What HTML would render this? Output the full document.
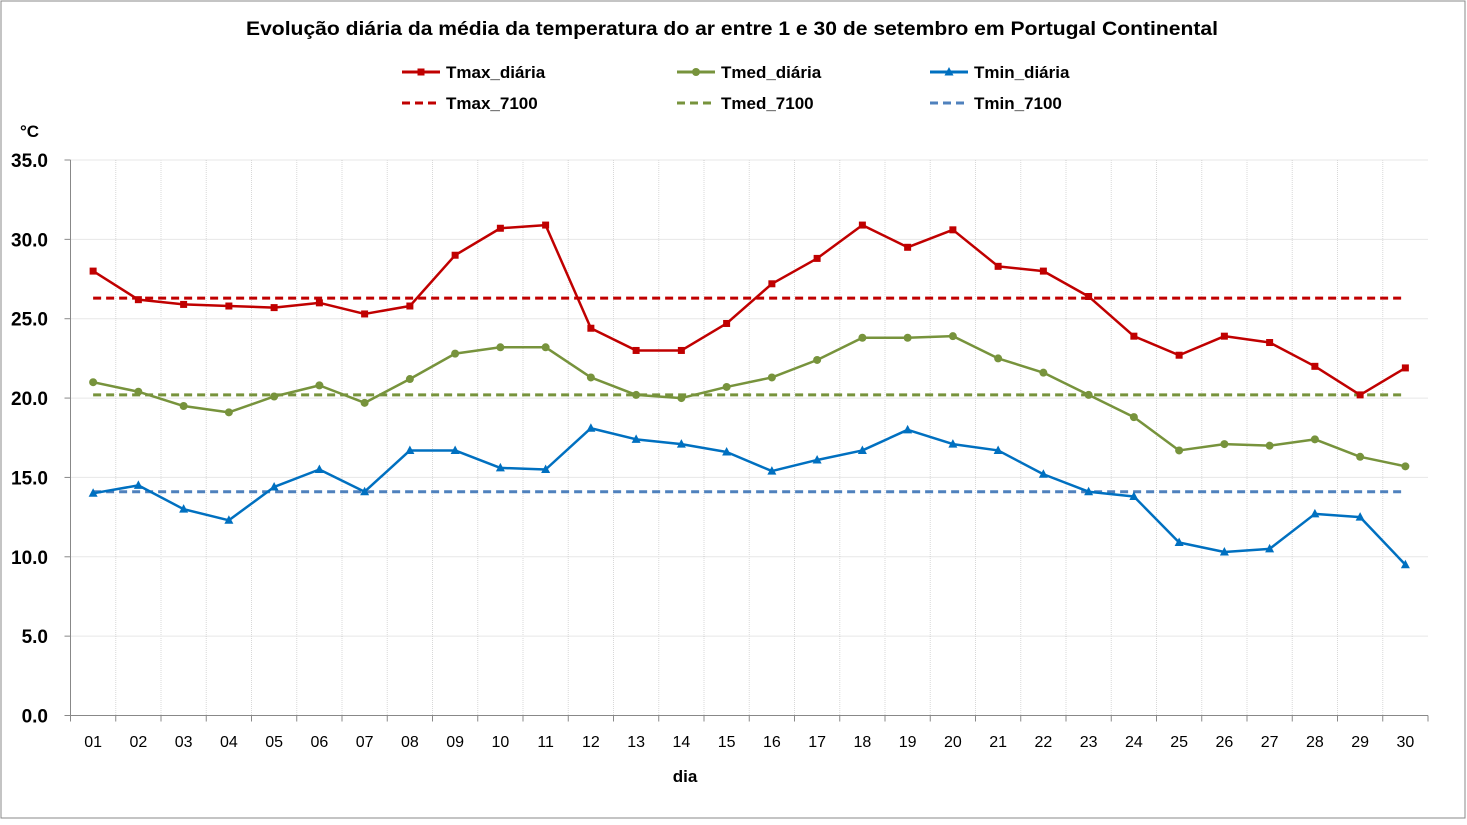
<!DOCTYPE html>
<html><head><meta charset="utf-8"><style>
html,body{margin:0;padding:0;background:#fff;}
svg{display:block;font-family:"Liberation Sans",sans-serif;}
</style></head><body>
<svg id="chart" width="1467" height="825">
<rect x="1" y="1" width="1464" height="817" fill="#fff" stroke="#888" stroke-width="1"/>
<text x="732" y="35" text-anchor="middle" font-size="19" font-weight="bold" fill="#000" textLength="972" lengthAdjust="spacingAndGlyphs">Evolução diária da média da temperatura do ar  entre 1 e 30 de setembro em Portugal Continental</text>
<text x="20" y="137" font-size="17" font-weight="bold">°C</text>
<text x="685" y="782" text-anchor="middle" font-size="17" font-weight="bold">dia</text>
<g id="grid"></g><g id="axes"></g><g id="series"></g><g id="legend"></g>
</svg>
<script>
const categories=["01","02","03","04","05","06","07","08","09","10","11","12","13","14","15","16","17","18","19","20","21","22","23","24","25","26","27","28","29","30"];
const tmax=[28.0,26.2,25.9,25.8,25.7,26.0,25.3,25.8,29.0,30.7,30.9,24.4,23.0,23.0,24.7,27.2,28.8,30.9,29.5,30.6,28.3,28.0,26.4,23.9,22.7,23.9,23.5,22.0,20.2,21.9];
const tmed=[21.0,20.4,19.5,19.1,20.1,20.8,19.7,21.2,22.8,23.2,23.2,21.3,20.2,20.0,20.7,21.3,22.4,23.8,23.8,23.9,22.5,21.6,20.2,18.8,16.7,17.1,17.0,17.4,16.3,15.7];
const tmin=[14.0,14.5,13.0,12.3,14.4,15.5,14.1,16.7,16.7,15.6,15.5,18.1,17.4,17.1,16.6,15.4,16.1,16.7,18.0,17.1,16.7,15.2,14.1,13.8,10.9,10.3,10.5,12.7,12.5,9.5];
const tmax7100=26.3, tmed7100=20.2, tmin7100=14.1;
const yTicks=[0,5,10,15,20,25,30,35];
const NS="http://www.w3.org/2000/svg";
const L=70.5,R=1428,T=160,B=715.5;
const bw=(R-L)/categories.length;
const xs=i=>L+bw*(i+0.5);
const ys=v=>B-(v/35)*(B-T);
function mk(tag,attrs,parent){const e=document.createElementNS(NS,tag);for(const k in attrs)e.setAttribute(k,attrs[k]);parent.appendChild(e);return e;}
const grid=document.getElementById('grid'),axes=document.getElementById('axes'),ser=document.getElementById('series'),leg=document.getElementById('legend');
yTicks.forEach(v=>{
 if(v>0){const g=mk('line',{x1:L,x2:R,y1:ys(v),y2:ys(v),stroke:'#d0d0d0','stroke-dasharray':'1 1'},grid);
 
 }
 const t=mk('line',{x1:L-6,x2:L,y1:ys(v),y2:ys(v),stroke:'#888'},axes);
 
 
 const tx=mk('text',{x:48,y:ys(v)+7,'text-anchor':'end','font-size':'19','font-weight':'bold'},axes);
 tx.textContent=v.toFixed(1);
 
 
});
for(let i=1;i<=categories.length;i++){
 const x=L+bw*i;
 if(i<categories.length){const g=mk('line',{x1:x,x2:x,y1:T,y2:B,stroke:'#d8d8d8','stroke-dasharray':'1 1'},grid);
 
 }
}
for(let i=0;i<=categories.length;i++){
 const x=L+bw*i;
 const t=mk('line',{x1:x,x2:x,y1:B,y2:B+6,stroke:'#888'},axes);
 
 
}
categories.forEach((c,i)=>{
 const tx=mk('text',{x:xs(i),y:747,'text-anchor':'middle','font-size':'16'},axes);
 tx.textContent=c;
 
 
});
const ya=mk('line',{x1:L,x2:L,y1:T,y2:B,stroke:'#888'},axes);


const xa=mk('line',{x1:L,x2:R,y1:B,y2:B,stroke:'#888'},axes);



function ref(v,color,name){
 const l=mk('line',{x1:xs(0),x2:xs(categories.length-1),y1:ys(v),y2:ys(v),stroke:color,'stroke-width':3,'stroke-dasharray':'8 5'},ser);
 
 
}
function marker(x,y,type,color,parent){
 if(type==='sq')return mk('rect',{x:x-3.5,y:y-3.5,width:7,height:7,fill:color},parent);
 if(type==='ci')return mk('circle',{cx:x,cy:y,r:4,fill:color},parent);
 return mk('path',{d:`M${x},${y-5}L${x+4.5},${y+3.5}L${x-4.5},${y+3.5}Z`,fill:color},parent);
}
function line(data,color,type,name){
 const g=mk('g',{},ser);
 
 
 const pts=data.map((v,i)=>xs(i)+','+ys(v)).join(' ');
 mk('polyline',{points:pts,fill:'none',stroke:color,'stroke-width':2.5,'stroke-linejoin':'round'},g);
 data.forEach((v,i)=>{const m=marker(xs(i),ys(v),type,color,g);
 
 });
}
ref(tmax7100,'#C00000','tmax-7100-line');
ref(tmed7100,'#77933C','tmed-7100-line');
ref(tmin7100,'#4F81BD','tmin-7100-line');
line(tmax,'#C00000','sq','tmax-line');
line(tmed,'#77933C','ci','tmed-line');
line(tmin,'#0070C0','tr','tmin-line');

function legEntry(x,y,color,type,label,dashed,name){
 const g=mk('g',{},leg);
 
 
 mk('line',{x1:x,x2:x+38,y1:y,y2:y,stroke:color,'stroke-width':3,'stroke-dasharray':dashed?'8 5':'none'},g);
 if(type)marker(x+19,y,type,color,g);
 const t=mk('text',{x:x+44,y:y+6,'font-size':'17','font-weight':'bold'},g);
 t.textContent=label;
}
legEntry(402,72,'#C00000','sq','Tmax_diária',false,'legend-tmax');
legEntry(677,72,'#77933C','ci','Tmed_diária',false,'legend-tmed');
legEntry(930,72,'#0070C0','tr','Tmin_diária',false,'legend-tmin');
legEntry(402,103,'#C00000',null,'Tmax_7100',true,'legend-tmax-7100');
legEntry(677,103,'#77933C',null,'Tmed_7100',true,'legend-tmed-7100');
legEntry(930,103,'#4F81BD',null,'Tmin_7100',true,'legend-tmin-7100');
</script>
</body></html>
